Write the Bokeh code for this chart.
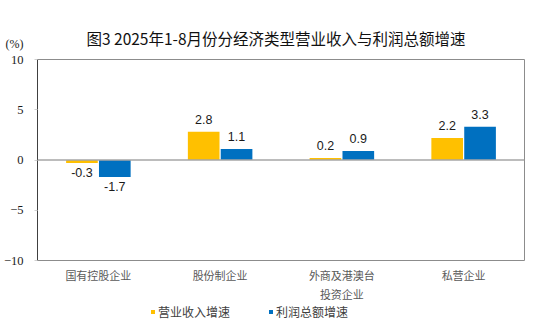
from bokeh.plotting import figure
from bokeh.layouts import column
from bokeh.models import (ColumnDataSource, FactorRange, Range1d, FixedTicker, Span,
                          LabelSet, Label, Legend, LegendItem, LinearAxis)
from bokeh.core.properties import value
from bokeh.transform import dodge
from bokeh.embed import file_html
from bokeh.resources import INLINE

categories = ["国有控股企业", "股份制企业", "外商及港澳台\n投资企业", "私营企业"]
revenue_growth = [-0.3, 2.8, 0.2, 2.2]
profit_growth = [-1.7, 1.1, 0.9, 3.3]
series_names = ["营业收入增速", "利润总额增速"]
y_ticks = [-10, -5, 0, 5, 10]
title_text = "图3 2025年1-8月份分经济类型营业收入与利润总额增速"
unit_text = "(%)"

C_REV = "#FFC000"
C_PRO = "#0070C0"
CJK = "Noto Sans CJK SC"
W = 541
TOP_H, MAIN_H, LEG_H = 52, 252, 30
FRAME_L, FRAME_R = 36, 524

src = ColumnDataSource(dict(cat=categories, rev=revenue_growth, pro=profit_growth))
off = 0.135
bw = 0.26


def strip(height, x_range, y_range, y_axis=None):
    f = figure(width=W, height=height, x_range=x_range, y_range=y_range,
               x_axis_location=None, y_axis_location=y_axis,
               output_backend="svg", toolbar_location=None, min_border=0)
    f.grid.visible = False
    f.outline_line_color = None
    f.background_fill_color = "white"
    f.border_fill_color = "white"
    return f


# ---- top strip: title (inside frame) and unit (as a left-axis label) ----
top = strip(TOP_H, Range1d(FRAME_L, FRAME_R), Range1d(0, TOP_H), y_axis="left")
top.add_layout(Label(x=275, y=TOP_H - 37, text=title_text, text_align="center",
                     text_baseline="middle", text_font=CJK, text_font_size="15.5px",
                     text_color="#111111"))
ya = top.yaxis[0]
ya.ticker = FixedTicker(ticks=[TOP_H - 47])
ya.major_label_overrides = {TOP_H - 47: unit_text}
ya.axis_line_color = None
ya.major_tick_line_color = None
ya.minor_tick_line_color = None
ya.major_label_standoff = 8
ya.major_label_text_font = "Liberation Serif"
ya.major_label_text_font_size = "12px"
ya.major_label_text_color = "#1a1a1a"

# ---- main chart ----
p = figure(width=W, height=MAIN_H, x_range=FactorRange(*categories, range_padding=0),
           y_range=Range1d(-10, 10), output_backend="svg", toolbar_location=None,
           min_border_left=FRAME_L, min_border_right=W - FRAME_R, min_border_top=7,
           min_border_bottom=43)
p.outline_line_color = "#8c8c8c"
p.xgrid.visible = False
p.ygrid.visible = False
p.background_fill_color = "white"
p.border_fill_color = "white"

p.vbar(x=dodge("cat", -off, range=p.x_range), top="rev", bottom=0, width=bw,
       source=src, fill_color=C_REV, line_color=None)
p.vbar(x=dodge("cat", off, range=p.x_range), top="pro", bottom=0, width=bw,
       source=src, fill_color=C_PRO, line_color=None)

p.add_layout(Span(location=0, dimension="width", line_color="#a6a6a6", line_width=1.5))

for vals, dx in ((revenue_growth, -off), (profit_growth, off)):
    pos = dict(cat=[c for c, v in zip(categories, vals) if v >= 0],
               v=[v for v in vals if v >= 0],
               t=["%.1f" % v for v in vals if v >= 0])
    neg = dict(cat=[c for c, v in zip(categories, vals) if v < 0],
               v=[v for v in vals if v < 0],
               t=["%.1f" % v for v in vals if v < 0])
    p.add_layout(LabelSet(x=dodge("cat", dx, range=p.x_range), y="v", text="t",
                          source=ColumnDataSource(pos), text_align="center",
                          text_baseline="bottom", y_offset=8, text_font=value("Liberation Sans"),
                          text_font_size=value("12.5px"), text_color="#1a1a1a"))
    p.add_layout(LabelSet(x=dodge("cat", dx, range=p.x_range), y="v", text="t",
                          source=ColumnDataSource(neg), text_align="center",
                          text_baseline="top", y_offset=-5, text_font=value("Liberation Sans"),
                          text_font_size=value("12.5px"), text_color="#1a1a1a"))

p.yaxis.ticker = FixedTicker(ticks=y_ticks)
p.yaxis.major_label_text_font = "Liberation Serif"
p.yaxis.major_label_text_font_size = "12.5px"
p.yaxis.major_label_text_color = "#1a1a1a"
p.yaxis.axis_line_color = "#404040"
p.yaxis.major_tick_in = 0
p.yaxis.major_tick_out = 3
p.yaxis.major_tick_line_color = "#d0d0d0"
p.yaxis.minor_tick_line_color = None
p.yaxis.major_label_standoff = 11

p.xaxis.axis_line_color = None
p.xaxis.major_tick_line_color = None
p.xaxis.minor_tick_line_color = None
p.xaxis.major_label_text_font = CJK
p.xaxis.major_label_text_font_size = "11px"
p.xaxis.major_label_text_color = "#595959"
p.xaxis.major_label_standoff = 0

# ---- legend strip (same data, drawn far outside its visible y range) ----
leg = strip(LEG_H, FactorRange(*categories, range_padding=0), Range1d(1000, 1000 + LEG_H))
g1 = leg.vbar(x=dodge("cat", -off, range=leg.x_range), top="rev", bottom=0, width=bw,
              source=src, fill_color=C_REV, line_color=None)
g2 = leg.vbar(x=dodge("cat", off, range=leg.x_range), top="pro", bottom=0, width=bw,
              source=src, fill_color=C_PRO, line_color=None)
legend = Legend(items=[LegendItem(label=series_names[0], renderers=[g1]),
                       LegendItem(label=series_names[1], renderers=[g2])],
                location=(113, 14), orientation="horizontal",
                glyph_width=5, glyph_height=5, label_standoff=3, spacing=38,
                padding=0, margin=0, border_line_color=None, background_fill_alpha=0,
                label_text_font=CJK, label_text_font_size="12px", label_text_color="#404040",
                label_height=14)
leg.add_layout(legend, "center")

layout = column(top, p, leg, spacing=0)
open("out.html", "w").write(file_html(layout, INLINE))
